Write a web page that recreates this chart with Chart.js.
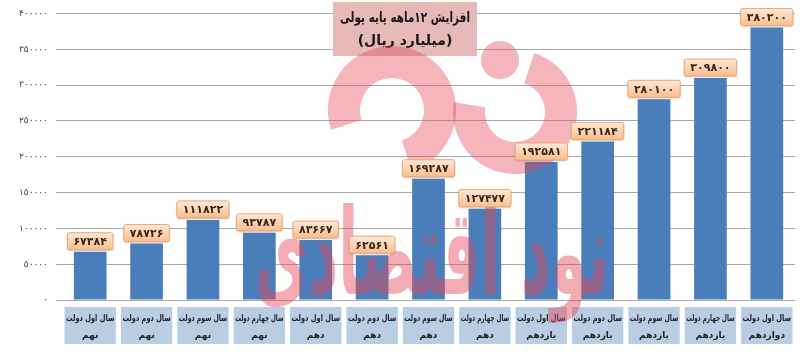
<!DOCTYPE html>
<html>
<head>
<meta charset="utf-8">
<script src="https://cdn.jsdelivr.net/npm/chart.js@4.4.1/dist/chart.umd.min.js"></script>
<style>
html,body{margin:0;padding:0;background:#fff;}
#wrap{width:800px;height:352px;position:relative;}
</style>
</head>
<body>
<div id="wrap"><canvas id="c" width="800" height="352"></canvas></div>
<script>
const catLine1 = ["سال اول دولت","سال دوم دولت","سال سوم دولت","سال چهارم دولت","سال اول دولت","سال دوم دولت","سال سوم دولت","سال چهارم دولت","سال اول دولت","سال دوم دولت","سال سوم دولت","سال چهارم دولت","سال اول دولت"];
const catLine2 = ["نهم","نهم","نهم","نهم","دهم","دهم","دهم","دهم","یازدهم","یازدهم","یازدهم","یازدهم","دوازدهم"];
const values = [67384,78726,111822,93787,83667,62561,169287,127477,192581,221184,280100,309800,380200];
const yTicks = [0,50000,100000,150000,200000,250000,300000,350000,400000];
const titleLines = ["افزایش ۱۲ماهه پایه پولی","(میلیارد ریال)"];
const watermarkText = "نود اقتصادی";

const FONT = "'DejaVu Sans', sans-serif";
const fa = s => String(s).replace(/\d/g, d => '۰۱۲۳۴۵۶۷۸۹'[d]);

function roundRect(ctx,x,y,w,h,r){
  ctx.beginPath();
  ctx.moveTo(x+r,y);ctx.lineTo(x+w-r,y);ctx.quadraticCurveTo(x+w,y,x+w,y+r);
  ctx.lineTo(x+w,y+h-r);ctx.quadraticCurveTo(x+w,y+h,x+w-r,y+h);
  ctx.lineTo(x+r,y+h);ctx.quadraticCurveTo(x,y+h,x,y+h-r);
  ctx.lineTo(x,y+r);ctx.quadraticCurveTo(x,y,x+r,y);ctx.closePath();
}
function fitText(ctx, t, x, y, maxW){
  const w = ctx.measureText(t).width;
  if (w <= maxW) { ctx.fillText(t, x, y); return; }
  ctx.save(); ctx.translate(x, y); ctx.scale(maxW/w, 1); ctx.fillText(t, 0, 0); ctx.restore();
}

const decor = {
  id:'decor',
  afterDatasetsDraw(chart){
    const ctx = chart.ctx;
    const xs = chart.scales.x;
    const ca = chart.chartArea;
    ctx.save();
    ctx.textAlign = 'center'; ctx.textBaseline = 'middle';
    // category boxes
    const step = xs.getPixelForTick(1) - xs.getPixelForTick(0);
    ctx.font = "bold 9px " + FONT;
    for(let i=0;i<values.length;i++){
      const cx = xs.getPixelForTick(i);
      const bw = step - 5;
      const top = ca.bottom + 7, bh = 37;
      ctx.fillStyle = '#b9cde5';
      ctx.fillRect(cx-bw/2, top, bw, bh);
      ctx.fillStyle = '#1f1f1f';
      fitText(ctx, catLine1[i], cx, top+12, bw-3);
      fitText(ctx, catLine2[i], cx, top+29, bw-3);
    }
    // title box
    const tx = 405;
    ctx.fillStyle = '#e6b9b8';
    ctx.fillRect(tx-72, 2, 144, 54);
    ctx.fillStyle = '#151515';
    ctx.font = "bold 14px " + FONT;
    fitText(ctx, titleLines[0], tx, 18, 130);
    fitText(ctx, titleLines[1], tx, 41, 130);
    // watermark logo
    ctx.globalAlpha = 0.4;
    ctx.strokeStyle = 'rgb(228,72,88)';
    ctx.fillStyle = 'rgb(228,72,88)';
    ctx.lineWidth = 32;
    ctx.beginPath(); ctx.arc(392,110,48,0.9*Math.PI,2.4*Math.PI); ctx.stroke();
    ctx.beginPath(); ctx.arc(515,112,46,1.6*Math.PI,3.05*Math.PI); ctx.stroke();
    ctx.beginPath(); ctx.arc(500,60,19,0,2*Math.PI); ctx.fill();
    // watermark text
    ctx.globalAlpha = 0.45;
    ctx.font = "bold 120px " + FONT;
    ctx.textBaseline = 'alphabetic';
    ctx.direction = 'rtl';
    ctx.save();
    ctx.translate(432, 294);
    const mw = ctx.measureText(watermarkText).width;
    ctx.scale(355/mw, 1);
    ctx.fillText(watermarkText, 0, 0);
    ctx.restore();
    ctx.restore();
  },
  afterDraw(chart){
    const ctx = chart.ctx;
    const meta = chart.getDatasetMeta(0);
    ctx.save();
    ctx.font = "bold 11px " + FONT;
    ctx.textAlign = 'center'; ctx.textBaseline = 'middle';
    meta.data.forEach((bar,i)=>{
      const t = fa(values[i]);
      const w = ctx.measureText(t).width + 12, h = 17;
      const x = bar.x - w/2, y = bar.y - h - 2;
      const g = ctx.createLinearGradient(0,y,0,y+h);
      g.addColorStop(0,'#fde9d9'); g.addColorStop(1,'#f9bf8f');
      ctx.fillStyle = g;
      ctx.shadowColor='rgba(0,0,0,0.25)'; ctx.shadowBlur=2; ctx.shadowOffsetY=1;
      roundRect(ctx,x,y,w,h,2); ctx.fill();
      ctx.shadowColor='transparent';
      ctx.strokeStyle='#f2a66a'; ctx.lineWidth=1; ctx.stroke();
      ctx.fillStyle='#3b2616';
      ctx.fillText(t, bar.x, y+h/2+1);
    });
    ctx.restore();
  }
};

new Chart(document.getElementById('c'), {
  type:'bar',
  data:{
    labels: catLine1.map((a,i)=>a+' '+catLine2[i]),
    datasets:[{data:values, backgroundColor:'#4a7ebb', borderWidth:0,
      barPercentage:0.58, categoryPercentage:1.0}]
  },
  options:{
    responsive:false, animation:false,
    layout:{padding:{top:8,right:5,left:0,bottom:0}},
    plugins:{legend:{display:false}, tooltip:{enabled:false}, title:{display:false}},
    scales:{
      x:{
        grid:{display:false}, border:{display:false},
        ticks:{display:false},
        afterFit(s){ s.height = 52; }
      },
      y:{
        min:0, max:400000,
        afterBuildTicks(s){ s.ticks = yTicks.map(v=>({value:v})); },
        ticks:{callback:v=>fa(v), font:{family:FONT, size:9}, color:'#444', padding:8},
        grid:{color:'#a8a8a8', lineWidth:1, tickLength:6, drawTicks:true},
        border:{display:false},
        afterFit(s){ s.width = 62; }
      }
    }
  },
  plugins:[decor]
});
</script>
</body>
</html>
